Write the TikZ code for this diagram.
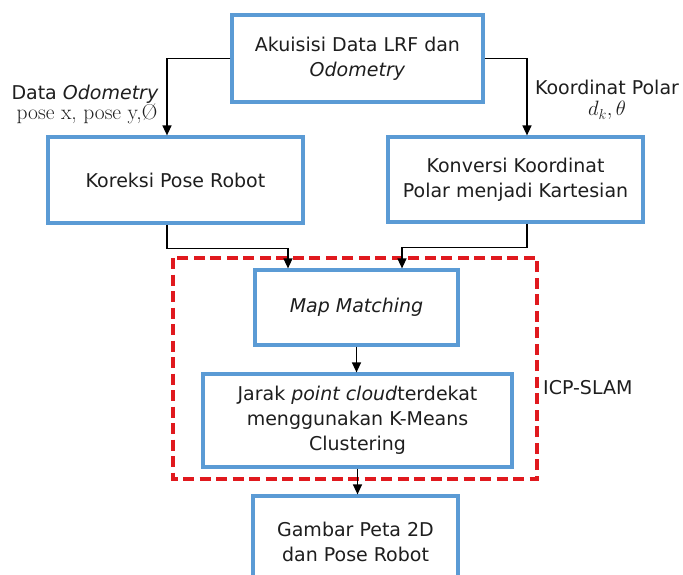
\documentclass[tikz,border=0pt]{standalone}
\usepackage{fontspec}
\setsansfont{DejaVu Sans}
\usetikzlibrary{arrows.meta}
\definecolor{boxblue}{HTML}{5B9BD5}
\definecolor{dashred}{HTML}{E0191E}
\definecolor{txt}{HTML}{1E1E1E}
\tikzset{
  blk/.style={draw=boxblue, line width=3.2pt, fill=white, align=center, text=txt,
    font=\sffamily\fontsize{19}{25}\selectfont, inner sep=0pt},
  arr/.style={draw=black, line width=1.4pt, -{Triangle[length=10pt,width=9pt]}},
  lbl/.style={align=center, text=txt, inner sep=0pt}
}
\begin{document}
\begin{tikzpicture}[x=1pt,y=-1pt]
\useasboundingbox (0,0) rectangle (683,575);
% red dashed group
\draw[dashred, line width=3.2pt, dash pattern=on 11pt off 5.5pt] (173,258) rectangle (537,479);
\node[blk, minimum width=251pt, minimum height=87pt] (top) at (357.5,58.5)
  {Akuisisi Data LRF dan\\ \textit{Odometry}};
\node[blk, minimum width=255pt, minimum height=86pt] (left) at (175.5,180)
  {Koreksi Pose Robot};
\node[blk, minimum width=255pt, minimum height=85pt] (right) at (515.5,179.5)
  {Konversi Koordinat\\ Polar menjadi Kartesian};
\node[blk, minimum width=203pt, minimum height=75pt] (mm) at (356.5,307.5)
  {\textit{Map Matching}};
\node[blk, minimum width=309pt, minimum height=93pt] (jarak) at (357.5,420.5)
  {Jarak \textit{point cloud}terdekat\\ menggunakan K-Means\\ Clustering};
\node[blk, minimum width=205pt, minimum height=92pt] (out) at (355.5,542)
  {Gambar Peta 2D\\ dan Pose Robot};
% labels
\node[lbl, font=\sffamily\fontsize{19}{22}\selectfont, anchor=base] (l1) at (85,100) {Data \textit{Odometry}};
\node[lbl, font=\fontsize{21.5}{22}\selectfont, anchor=base] (l2) at (87,120) {pose x, pose y,Ø};
\node[lbl, font=\sffamily\fontsize{19}{22}\selectfont, anchor=base] (l3) at (607,95) {Koordinat Polar};
\node[lbl, font=\fontsize{20}{22}\selectfont, anchor=base] (l4) at (607,116) {$d_k,\theta$};
\node[lbl, font=\sffamily\fontsize{19}{22}\selectfont, anchor=west] (icp) at (543,388) {ICP-SLAM};
% connectors
\draw[arr] (top.west) -| ([xshift=-8.5pt]left.north);
\draw[arr] (top.east) -| ([xshift=11.5pt]right.north);
\draw[arr] ([xshift=-8.5pt]left.south) -- ++(0,24) -| ([xshift=-68.5pt]mm.north);
\draw[arr] ([xshift=11.5pt]right.south) -- ++(0,24) -| ([xshift=45.5pt]mm.north);
\draw[arr] (mm.south) -- (mm.south |- jarak.north);
\draw[arr] (jarak.south) -- (jarak.south |- out.north);
\end{tikzpicture}
\end{document}
